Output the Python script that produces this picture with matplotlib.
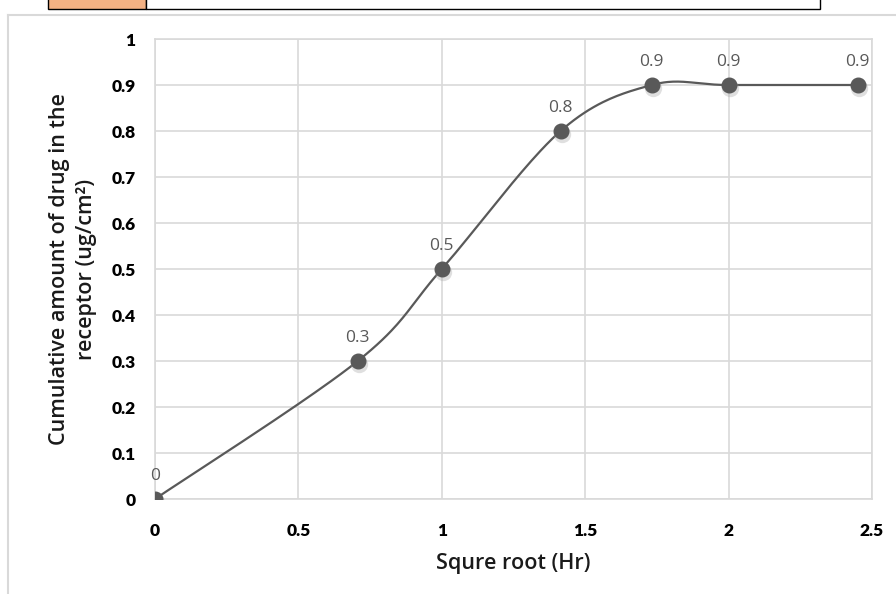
import numpy as np
import matplotlib.pyplot as plt
from matplotlib.patches import Rectangle
from matplotlib.transforms import ScaledTranslation

# Dados: raiz quadrada do tempo x quantidade acumulada
raiz_tempo = [0, 0.7071, 1.0, 1.4142, 1.7321, 2.0, 2.4495]
quantidade = [0, 0.3, 0.5, 0.8, 0.9, 0.9, 0.9]
rotulos = ['0', '0.3', '0.5', '0.8', '0.9', '0.9', '0.9']
ticks_x = [0, 0.5, 1, 1.5, 2, 2.5]
ticks_y = [0, 0.1, 0.2, 0.3, 0.4, 0.5, 0.6, 0.7, 0.8, 0.9, 1]

COR_LINHA = '#595959'
COR_GRADE = '#d9d9d9'


def curva_suave(xs, ys, n=40):
    # linha suavizada estilo Excel (Bezier com tangentes de Catmull-Rom)
    p = np.column_stack([xs, ys]).astype(float)
    p = np.vstack([p[0], p, p[-1]])
    pts = []
    for i in range(1, len(p) - 2):
        p0, p1, p2, p3 = p[i - 1], p[i], p[i + 1], p[i + 2]
        c1 = p1 + (p2 - p0) / 6
        c2 = p2 - (p3 - p1) / 6
        t = np.linspace(0, 1, n)[:, None]
        seg = ((1 - t) ** 3) * p1 + 3 * ((1 - t) ** 2) * t * c1 + 3 * (1 - t) * t ** 2 * c2 + t ** 3 * p2
        pts.append(seg)
    pts = np.vstack(pts)
    return pts[:, 0], pts[:, 1]


fig = plt.figure(figsize=(8.96, 5.94), dpi=100)

# moldura externa do grafico
fig.add_artist(plt.Line2D([8 / 896, 8 / 896], [0, 1 - 15 / 594], color=COR_GRADE, lw=1.5))
fig.add_artist(plt.Line2D([8 / 896, 1], [1 - 15 / 594, 1 - 15 / 594], color=COR_GRADE, lw=1.5))

# pedaco da tabela acima do grafico
fig.add_artist(Rectangle((48 / 896, 1 - 9 / 594), 98 / 896, 12 / 594, transform=fig.transFigure,
                         facecolor='#f4b183', edgecolor='black', lw=1))
fig.add_artist(Rectangle((146 / 896, 1 - 9 / 594), 674 / 896, 12 / 594, transform=fig.transFigure,
                         facecolor='white', edgecolor='black', lw=1))

ax = fig.add_axes([155 / 896, 95 / 594, 717 / 896, 460 / 594])

xs, ys = curva_suave(raiz_tempo, quantidade)
ax.plot(xs, ys, color=COR_LINHA, lw=1.6, zorder=3)
# sombra dos marcadores
sombra = ax.transData + ScaledTranslation(1 / 100, -2.5 / 100, fig.dpi_scale_trans)
ax.plot(raiz_tempo, quantidade, 'o', color='#a6a6a6', ms=12.5, alpha=0.35, mew=0, zorder=3, transform=sombra)
ax.plot(raiz_tempo, quantidade, 'o', color=COR_LINHA, ms=10.5, zorder=4)

for x, y, r in zip(raiz_tempo, quantidade, rotulos):
    ax.annotate(r, (x, y), xytext=(0, 11), textcoords='offset points', ha='center', va='bottom',
                fontsize=12.5, color='#595959', family='Open Sans')

ax.set_xlim(0, 2.5)
ax.set_ylim(0, 1)
ax.set_xticks(ticks_x)
ax.set_yticks(ticks_y)
ax.set_xticklabels([f'{t:g}' for t in ticks_x])
ax.set_yticklabels([f'{t:g}' for t in ticks_y])
ax.tick_params(axis='y', length=0, labelsize=12.5, pad=14, colors='black')
ax.tick_params(axis='x', length=0, labelsize=12.5, pad=17, colors='black')
for lab in ax.get_xticklabels() + ax.get_yticklabels():
    lab.set_fontweight('heavy')
    lab.set_family('Lato')
ax.grid(True, color=COR_GRADE, lw=1.2)
ax.set_axisbelow(True)
for s in ax.spines.values():
    s.set_color(COR_GRADE)
    s.set_linewidth(1.2)

ax.set_xlabel('Squre root (Hr)', fontsize=15.5, family='Open Sans', weight='semibold',
              color='#1a1a1a', labelpad=10)
ax.set_ylabel('Cumulative amount of drug in the\nreceptor (ug/cm²)', fontsize=15.5, family='Open Sans',
              weight='semibold', color='#1a1a1a', labelpad=10, linespacing=1.4)

fig.savefig('out.png', dpi=100)
